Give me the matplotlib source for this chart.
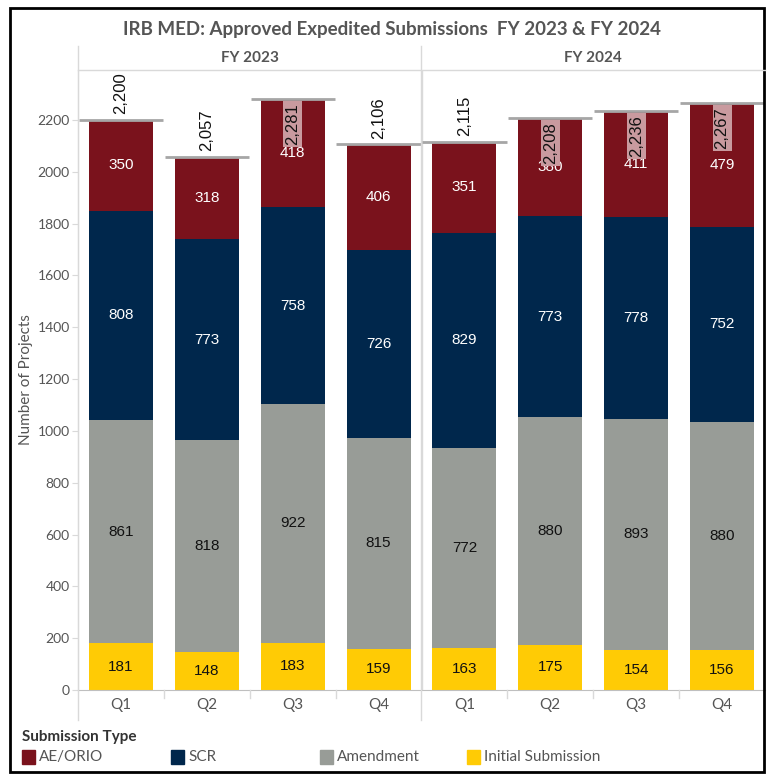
"""IRB MED: approved expedited submissions, FY 2023 & FY 2024 (stacked bars)."""

import matplotlib

matplotlib.use("Agg")
import matplotlib.pyplot as plt
from matplotlib.lines import Line2D
from matplotlib.patches import Rectangle
import numpy as np

# data
years = ["FY 2023", "FY 2024"]
quarters = ["Q1", "Q2", "Q3", "Q4"]
series = ["Initial Submission", "Amendment", "SCR", "AE/ORIO"]
initial = [181, 148, 183, 159, 163, 175, 154, 156]
amendment = [861, 818, 922, 815, 772, 880, 893, 880]
scr = [808, 773, 758, 726, 829, 773, 778, 752]
ae_orio = [350, 318, 418, 406, 351, 380, 411, 479]
y_ticks = list(range(0, 2201, 200))

# styles
_COLORS = {
    "Initial Submission": "#ffcb05",
    "Amendment": "#989c97",
    "SCR": "#00274c",
    "AE/ORIO": "#7a121c",
}
_TEXT_COLORS = {
    "Initial Submission": "#111111",
    "Amendment": "#111111",
    "SCR": "white",
    "AE/ORIO": "white",
}
UI_FONT = ["Lato", "DejaVu Sans"]
NUM_FONT = ["Liberation Sans", "DejaVu Sans"]
GREY = "#555555"
LINE = "#d9d9d9"

W, H = 767, 774
fig = plt.figure(figsize=(W / 100, H / 100), dpi=100)


def fx(px):
    return px / W


def fy(py):
    return 1 - py / H


ax_left, ax_right, ax_top, ax_bottom = 78, 765, 70, 690
ax = fig.add_axes([fx(ax_left), fy(ax_bottom), fx(ax_right - ax_left), (ax_bottom - ax_top) / H])

values = {"Initial Submission": initial, "Amendment": amendment, "SCR": scr, "AE/ORIO": ae_orio}
x = np.arange(len(initial))
bottom = np.zeros(len(x))
for name in series:
    vals = np.array(values[name])
    ax.bar(x, vals, width=0.745, bottom=bottom, color=_COLORS[name], zorder=2)
    for xi, b, v in zip(x, bottom, vals):
        ax.text(xi, b + v / 2, f"{v}", ha="center", va="center", fontsize=11,
                color=_TEXT_COLORS[name], family=NUM_FONT, zorder=4)
    bottom += vals

# totals with reference lines
ymax = 2393
for xi, tot in zip(x, bottom):
    ax.hlines(tot, xi - 0.49, xi + 0.49, color="#a6a6a6", lw=2, zorder=3)
    label = f"{int(tot):,}"
    if tot > 2200:
        ax.annotate(label, (xi, tot), xytext=(0, -3), textcoords="offset points",
                    rotation=90, ha="center", va="top", fontsize=12,
                    family=NUM_FONT, color="#111111", zorder=5,
                    bbox=dict(boxstyle="square,pad=0.12", fc="#c99a9f", ec="none"))
    else:
        ax.annotate(label, (xi, tot), xytext=(0, 4), textcoords="offset points",
                    rotation=90, ha="center", va="bottom", fontsize=12,
                    family=NUM_FONT, color="#111111", zorder=5,
                    annotation_clip=False)

ax.set_xlim(-0.5, len(x) - 0.5)
ax.set_ylim(0, ymax)
ax.set_yticks(y_ticks)
ax.set_yticklabels([str(t) for t in y_ticks], family=UI_FONT, fontsize=10, color=GREY)
ax.set_xticks(x)
ax.set_xticklabels(quarters * 2, family=UI_FONT, fontsize=11, color=GREY)
ax.tick_params(axis="y", length=4, color=LINE, pad=2)
ax.tick_params(axis="x", length=0, pad=6)
for side in ["top", "right"]:
    ax.spines[side].set_visible(False)
ax.spines["left"].set_color(LINE)
ax.spines["bottom"].set_color("#bfbfbf")
ax.axvline(3.5, color=LINE, lw=1, zorder=1)
ax.set_ylabel("Number of Projects", family=UI_FONT, fontsize=11, color=GREY)
ax.yaxis.set_label_coords(-(78 - 33) / (ax_right - ax_left), 0.5)

# header row and axis separators
fig.add_artist(Line2D([fx(ax_left), fx(ax_right)], [fy(ax_top)] * 2, color=LINE, lw=1))
fig.add_artist(Line2D([fx(ax_left)] * 2, [fy(46), fy(720)], color=LINE, lw=1))
fig.add_artist(Line2D([fx(421)] * 2, [fy(46), fy(720)], color=LINE, lw=1))
slot = (ax_right - ax_left) / 8
for i in range(1, 8):
    if i == 4:
        continue
    xp = ax_left + i * slot
    fig.add_artist(Line2D([fx(xp)] * 2, [fy(ax_bottom), fy(698)], color=LINE, lw=1))
for i, yr in enumerate(years):
    cx = ax_left + (i * 4 + 2) * slot
    fig.text(fx(cx), fy(58), yr, ha="center", va="center", family=UI_FONT,
             fontsize=11, color=GREY, fontweight="bold")

fig.text(fx(392), fy(30), "IRB MED: Approved Expedited Submissions  FY 2023 & FY 2024",
         ha="center", va="center", family=UI_FONT, fontsize=13.5, color=GREY,
         fontweight="bold")

# legend
fig.text(fx(22), fy(737), "Submission Type", ha="left", va="center", family=UI_FONT,
         fontsize=11, color="#333333", fontweight="bold")
legend_x = [22, 171, 320, 467]
for name, lx in zip(["AE/ORIO", "SCR", "Amendment", "Initial Submission"], legend_x):
    fig.add_artist(Rectangle((fx(lx), fy(764)), fx(13), 14 / H, color=_COLORS[name]))
    fig.text(fx(lx + 17), fy(757), name, ha="left", va="center", family=UI_FONT,
             fontsize=11, color=GREY)

# outer frame
fig.add_artist(Rectangle((fx(10), fy(772)), fx(754), 764 / H, fill=False,
                         ec="black", lw=2))

fig.savefig("out.png", dpi=100)
